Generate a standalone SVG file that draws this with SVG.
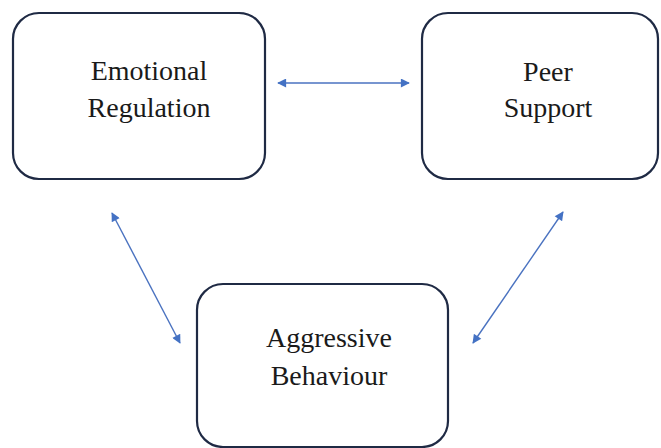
<svg xmlns="http://www.w3.org/2000/svg" width="661" height="448" viewBox="0 0 661 448">
<style>
.box{fill:#fff;stroke:#1f2a44;stroke-width:2.2}
.t{font-family:'Liberation Serif','Times New Roman',serif;font-size:28px;fill:#1a1a1a;text-anchor:middle}
.c{stroke:#4a72c0;stroke-width:1.4;fill:none;marker-start:url(#ah);marker-end:url(#ah)}
</style>
<defs>
<marker id="ah" viewBox="0 0 10 10" refX="9" refY="5" markerWidth="10" markerHeight="9" markerUnits="userSpaceOnUse" orient="auto-start-reverse">
<path d="M0,0 L10,5 L0,10 Z" fill="#4472c4"/>
</marker>
</defs>
<rect width="661" height="448" fill="#fff"/>
<g id="emotional-regulation">
<rect class="box" x="13" y="13" width="252" height="166" rx="26"/>
<text class="t" x="149" y="80">Emotional</text>
<text class="t" x="149" y="117">Regulation</text>
</g>
<g id="peer-support">
<rect class="box" x="422" y="13" width="236" height="166" rx="26"/>
<text class="t" x="548" y="81">Peer</text>
<text class="t" x="548" y="117">Support</text>
</g>
<g id="aggressive-behaviour">
<rect class="box" x="197" y="284" width="251" height="163" rx="26"/>
<text class="t" x="329" y="347">Aggressive</text>
<text class="t" x="329" y="385">Behaviour</text>
</g>
<g id="connectors">
<line class="c" x1="278" y1="83" x2="409" y2="83"/>
<line class="c" x1="112" y1="213" x2="180" y2="343"/>
<line class="c" x1="563" y1="212" x2="473" y2="343"/>
</g>
</svg>
